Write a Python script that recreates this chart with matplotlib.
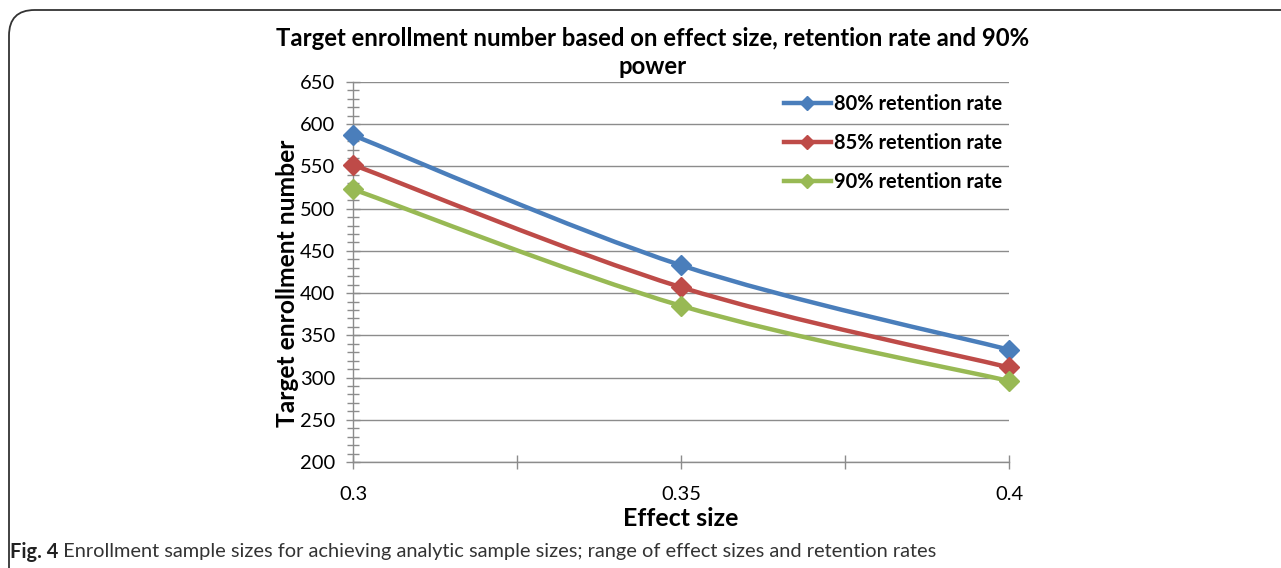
import numpy as np
import matplotlib.pyplot as plt
from matplotlib.path import Path
from matplotlib.patches import PathPatch, FancyBboxPatch
from matplotlib.lines import Line2D
from matplotlib.ticker import MultipleLocator, FixedLocator

plt.rcParams['font.family'] = ['Lato', 'DejaVu Sans']

effect_size = [0.3, 0.35, 0.4]
series_names = ["80% retention rate", "85% retention rate", "90% retention rate"]
retention_80 = [587, 433, 333]
retention_85 = [552, 407, 312]
retention_90 = [523, 385, 296]
colors = ["#4A7EBB", "#BE4B48", "#98B954"]

title_lines = ["Target enrollment number based on effect size, retention rate and 90%", "power"]
caption_bold = "Fig. 4"
caption_text = " Enrollment sample sizes for achieving analytic sample sizes; range of effect sizes and retention rates"


def smooth_path(xs, ys):
    # bezier through the points, like the spreadsheet "smoothed line"
    pts = np.column_stack([xs, ys]).astype(float)
    verts = [pts[0]]
    codes = [Path.MOVETO]
    n = len(pts)
    for i in range(n - 1):
        p0 = pts[max(i - 1, 0)]
        p1 = pts[i]
        p2 = pts[i + 1]
        p3 = pts[min(i + 2, n - 1)]
        c1 = p1 + (p2 - p0) / 6.0
        c2 = p2 - (p3 - p1) / 6.0
        verts += [c1, c2, p2]
        codes += [Path.CURVE4] * 3
    return Path(verts, codes)


fig = plt.figure(figsize=(12.81, 5.68), dpi=100)

frame = FancyBboxPatch((9 / 1281, 0.0 - 0.05), 1.05, 1 - 10 / 568 + 0.05,
                       boxstyle="round,pad=0,rounding_size=0.02",
                       transform=fig.transFigure, facecolor="none",
                       edgecolor="#333333", linewidth=1.3, mutation_aspect=1281 / 568,
                       zorder=-1)
fig.patches.append(frame)

ax = fig.add_axes([353 / 1281, 1 - 462 / 568, (1009 - 353) / 1281, (462 - 82) / 568])
ax.set_facecolor("none")

ax.set_xlim(0.3, 0.4)
ax.set_ylim(200, 650)

for s, vals in enumerate([retention_80, retention_85, retention_90]):
    patch = PathPatch(smooth_path(effect_size, vals), facecolor="none",
                      edgecolor=colors[s], linewidth=3.2, zorder=3,
                      capstyle="round", joinstyle="round")
    ax.add_patch(patch)
    ax.plot(effect_size, vals, linestyle="none", marker="D", markersize=10,
            color=colors[s], zorder=4, clip_on=False)

ax.yaxis.set_major_locator(MultipleLocator(50))
ax.yaxis.set_minor_locator(MultipleLocator(10))
ax.xaxis.set_major_locator(FixedLocator([0.3, 0.35, 0.4]))
ax.xaxis.set_minor_locator(FixedLocator([0.325, 0.375]))
ax.set_xticklabels(["0.3", "0.35", "0.4"])

ax.grid(axis="y", which="major", color="#8C8C8C", linewidth=1.0, zorder=1)
ax.tick_params(axis="y", which="major", direction="inout", length=10, width=1,
               color="#8C8C8C", labelsize=14.5, pad=8)
ax.tick_params(axis="y", which="minor", direction="inout", length=8, width=1,
               color="#8C8C8C")
ax.tick_params(axis="x", which="both", direction="inout", length=10, width=1,
               color="#8C8C8C", labelsize=14.5, pad=12)

for side in ["top", "right"]:
    ax.spines[side].set_visible(False)
for side in ["left", "bottom"]:
    ax.spines[side].set_color("#8C8C8C")
    ax.spines[side].set_linewidth(1.0)

ax.set_ylabel("Target enrollment number", fontsize=17.7, fontweight="bold")
ax.yaxis.set_label_coords(-0.083, (462 - 283) / 380)
ax.set_xlabel("Effect size", fontsize=18, fontweight="bold", labelpad=3)

fig.text(653 / 1281, 1 - 38 / 568, title_lines[0], ha="center", va="center",
         fontsize=17.2, fontweight="bold")
fig.text(653 / 1281, 1 - 67 / 568, title_lines[1], ha="center", va="center",
         fontsize=17.2, fontweight="bold")

handles = [Line2D([], [], color=c, linewidth=3.2, marker="D", markersize=7) for c in colors]
ax.legend(handles, series_names, loc="upper left", bbox_to_anchor=(0.629, 1.016),
          frameon=False, handlelength=2.35, handletextpad=0.15,
          labelspacing=0.945, prop={"weight": "bold", "size": 14.4})

t = fig.text(10 / 1281, 1 - 552 / 568, caption_bold, ha="left", va="center",
             fontsize=14.4, fontweight="bold", color="#222222")
fig.canvas.draw()
bb = t.get_window_extent()
fig.text(bb.x1 / 1281, 1 - 552 / 568, caption_text, ha="left", va="center",
         fontsize=14.4, color="#333333")

fig.savefig("out.png", dpi=100)
